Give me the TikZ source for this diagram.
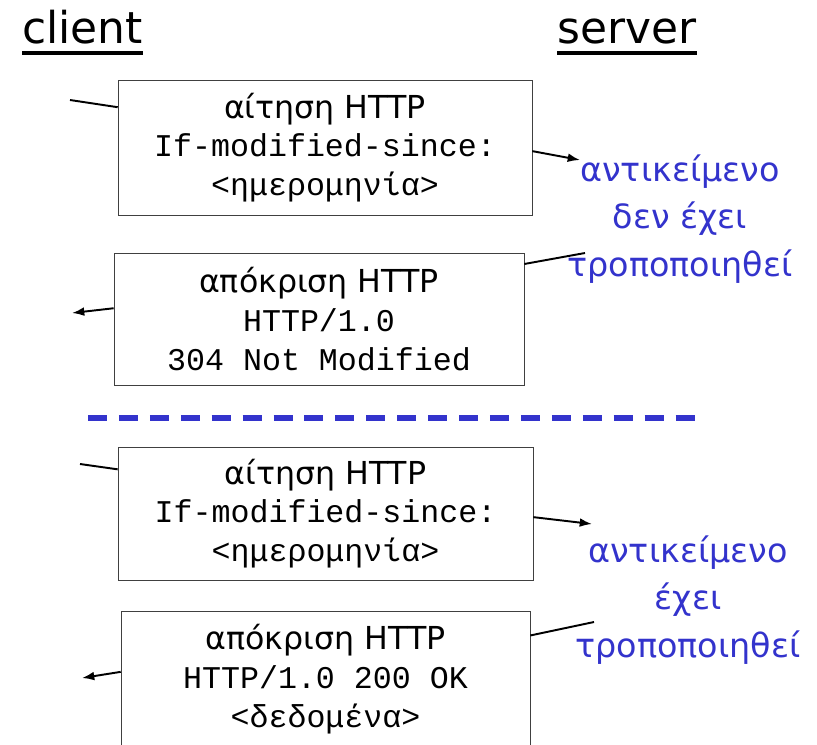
\documentclass[tikz,border=0pt]{standalone}
\usepackage{fontspec}
\setmainfont{DejaVu Sans}
\setmonofont{Liberation Mono}
\usetikzlibrary{arrows.meta}

\definecolor{noteblue}{RGB}{51,51,204}

\tikzset{
	msgbox/.style = {draw = black!75, thin, align = center, inner sep = 0pt,
		font = \fontsize{18}{22}\selectfont},
	note/.style = {text = noteblue, align = center, inner sep = 0pt,
		font = \fontsize{19}{27}\selectfont},
	side/.style = {inner sep = 0pt, font = \fontsize{25}{30}\selectfont},
	msg/.style = {line width = 1.1pt, black}
}

\begin{document}
\begin{tikzpicture}[x = 0.02cm, y = -0.02cm, >={Latex[length=7pt, width=5pt]}]
		\clip (0,0) rectangle (817,744);
		
		\node[side, anchor = base west] (client) at (22,43) {client};
		\node[side, anchor = base west] (server) at (557,43) {server};
		\draw[line width = 2.6pt, black](client.south west |- 0,53) -- (client.south east |- 0,53);
		\draw[line width = 2.6pt, black](server.south west |- 0,53) -- (server.south east |- 0,53);
		
		\node[msgbox, minimum width = 8.28cm, minimum height = 2.7cm] (req1) at (325,147.5)
			{αίτηση HTTP\\ \texttt{If-modified-since:}\\ \texttt{<ημερομηνία>}};
		\node[msgbox, minimum width = 8.2cm, minimum height = 2.64cm] (resp1) at (319,319)
			{απόκριση HTTP\\ \texttt{HTTP/1.0}\\ \texttt{304 Not Modified}};
		\node[msgbox, minimum width = 8.3cm, minimum height = 2.66cm] (req2) at (325.5,513.5)
			{αίτηση HTTP\\ \texttt{If-modified-since:}\\ \texttt{<ημερομηνία>}};
		\node[msgbox, minimum width = 8.18cm, minimum height = 2.72cm] (resp2) at (325.5,679)
			{απόκριση HTTP\\ \texttt{HTTP/1.0 200 OK}\\ \texttt{<δεδομένα>}};
		
		\node[note] (same) at (680,219) {αντικείμενο\\ δεν έχει\\ τροποποιηθεί};
		\node[note] (changed) at (688,600) {αντικείμενο\\ έχει\\ τροποποιηθεί};
		
		% ends of the messages
		\coordinate (c1) at (70,100);
		\coordinate (s1) at (580,160);
		\coordinate (s2) at (585,253);
		\coordinate (c2) at (72,313);
		\coordinate (c3) at (80,464);
		\coordinate (s3) at (592,524);
		\coordinate (s4) at (594,622);
		\coordinate (c4) at (82,678);
		
		\draw[msg](c1) -- (req1.169);
		\draw[->, msg](req1.-1.5) -- (s1);
		\draw[msg](s2) -- (resp1.15.5);
		\draw[->, msg](resp1.177.5) -- (c2);
		\draw[msg](c3) -- (req2.168.2);
		\draw[->, msg](req2.-1.2) -- (s3);
		\draw[msg](s4) -- (resp2.12);
		\draw[->, msg](resp2.178) -- (c4);
		
		\draw[noteblue, line width = 3.4pt, dash pattern = on 10.8pt off 6.8pt](88,418) -- (697,418);
		
\end{tikzpicture}
\end{document}
